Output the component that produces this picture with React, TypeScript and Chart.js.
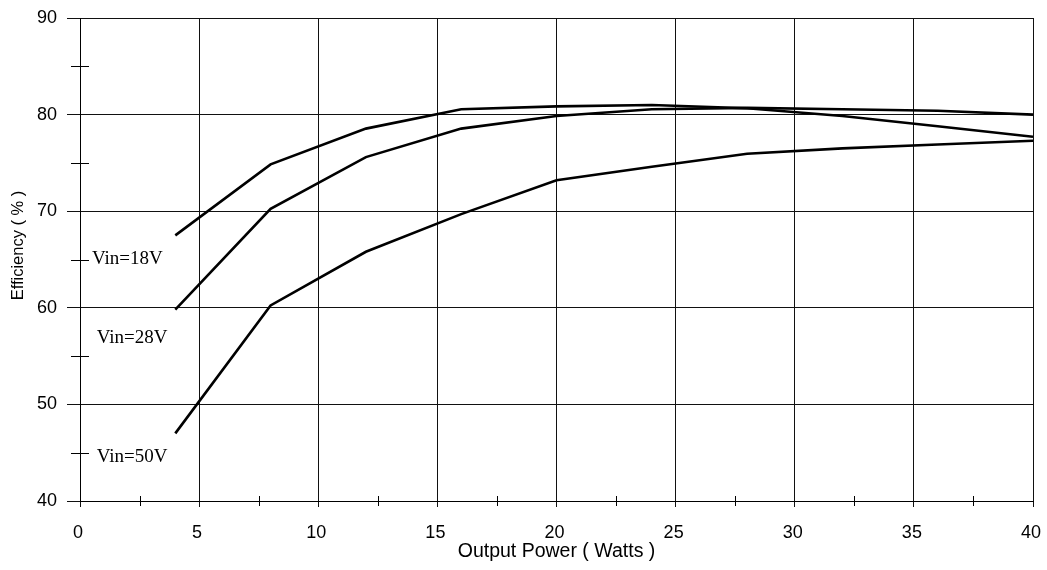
import React, { useEffect, useRef } from "react";
import { Chart, registerables } from "chart.js";

Chart.register(...registerables);

const outputPower = [4, 8, 12, 16, 20, 24, 28, 32, 36, 40];
const eff18V = [67.5, 74.85, 78.55, 80.55, 80.85, 81.0, 80.65, 79.85, 78.8, 77.7];
const eff28V = [59.8, 70.25, 75.6, 78.55, 79.85, 80.55, 80.7, 80.55, 80.4, 80.0];
const eff50V = [47.0, 60.25, 65.8, 69.7, 73.2, 74.6, 75.95, 76.5, 76.9, 77.3];

const seriesNames = ["Vin=18V", "Vin=28V", "Vin=50V"];
const labelAnchorX = [0.5, 0.7, 0.7];
const labelAnchorY = [65.1, 56.9, 44.6];

const xTicks = [0, 5, 10, 15, 20, 25, 30, 35, 40];
const yTicks = [40, 50, 60, 70, 80, 90];
const xMinorTicks = [2.5, 7.5, 12.5, 17.5, 22.5, 27.5, 32.5, 37.5];
const yMinorTicks = [45, 55, 65, 75, 85];

const xTitle = "Output Power ( Watts )";
const yTitle = "Efficiency ( % )";
const yTitleCenterValue = 66.45;

const sansFont = "'Liberation Sans', Arial, sans-serif";
const serifFont = "'Liberation Serif', 'Times New Roman', serif";

const extrasPlugin = {
  id: "extras",
  afterDraw(chart: any) {
    const ctx = chart.ctx;
    const xs = chart.scales.x;
    const ys = chart.scales.y;
    const axisX = xs.getPixelForValue(0);
    const axisY = ys.getPixelForValue(40);
    ctx.save();
    ctx.strokeStyle = "#000";
    ctx.lineWidth = 1;
    ctx.beginPath();
    for (const v of yMinorTicks) {
      const py = Math.round(ys.getPixelForValue(v)) + 0.5;
      ctx.moveTo(axisX - 9, py);
      ctx.lineTo(axisX + 9, py);
    }
    for (const v of xMinorTicks) {
      const px = Math.round(xs.getPixelForValue(v)) + 0.5;
      ctx.moveTo(px, axisY - 5);
      ctx.lineTo(px, axisY + 5);
    }
    ctx.stroke();
    ctx.fillStyle = "#000";
    ctx.font = `19px ${serifFont}`;
    ctx.textAlign = "left";
    ctx.textBaseline = "middle";
    seriesNames.forEach((name, i) => {
      ctx.fillText(
        name,
        xs.getPixelForValue(labelAnchorX[i]),
        ys.getPixelForValue(labelAnchorY[i])
      );
    });
    // y-axis title
    ctx.translate(18, ys.getPixelForValue(yTitleCenterValue));
    ctx.rotate(-Math.PI / 2);
    ctx.font = `16.5px ${sansFont}`;
    ctx.textAlign = "center";
    ctx.textBaseline = "middle";
    ctx.fillText(yTitle, 0, 0);
    ctx.restore();
  },
};

export default function App() {
  const canvasRef = useRef<HTMLCanvasElement | null>(null);

  useEffect(() => {
    if (!canvasRef.current) return;
    const mk = (vals: number[]) => outputPower.map((x, i) => ({ x, y: vals[i] }));
    const chart = new Chart(canvasRef.current, {
      type: "line",
      data: {
        datasets: [eff18V, eff28V, eff50V].map((vals, i) => ({
          label: seriesNames[i],
          data: mk(vals),
          borderColor: "#000",
          borderWidth: 2.6,
          pointRadius: 0,
          tension: 0,
          fill: false,
        })),
      },
      options: {
        animation: false,
        responsive: false,
        layout: { padding: { left: 0, top: 18, right: 14, bottom: 0 } },
        plugins: { legend: { display: false }, tooltip: { enabled: false } },
        scales: {
          x: {
            type: "linear",
            min: 0,
            max: 40,
            afterBuildTicks: (s: any) => {
              s.ticks = xTicks.map((v) => ({ value: v }));
            },
            afterFit: (s: any) => {
              s.height = 69;
              s.paddingLeft = 0;
              s.paddingRight = 0;
            },
            ticks: {
              color: "#000",
              font: { family: sansFont, size: 18 },
              padding: 15,
              labelOffset: -2,
              maxRotation: 0,
            },
            grid: { color: "#111", lineWidth: 1, tickLength: 6 },
            border: { color: "#000", width: 1 },
            title: {
              display: true,
              text: xTitle,
              color: "#000",
              font: { family: sansFont, size: 19.5 },
              padding: { top: 0, bottom: 7 },
            },
          },
          y: {
            type: "linear",
            min: 40,
            max: 90,
            afterBuildTicks: (s: any) => {
              s.ticks = yTicks.map((v) => ({ value: v }));
            },
            afterFit: (s: any) => {
              s.width = 80;
              s.paddingTop = 0;
              s.paddingBottom = 0;
            },
            ticks: {
              color: "#000",
              font: { family: sansFont, size: 18 },
              padding: 10,
            },
            grid: { color: "#111", lineWidth: 1, tickLength: 13 },
            border: { color: "#000", width: 1 },
            title: { display: false },
          },
        },
      },
      plugins: [extrasPlugin],
    } as any);
    return () => chart.destroy();
  }, []);

  return (
    <div style={{ position: "fixed", left: 0, top: 0, width: 1047, height: 570, background: "#fff" }}>
      <canvas ref={canvasRef} width={1047} height={570} />
    </div>
  );
}
